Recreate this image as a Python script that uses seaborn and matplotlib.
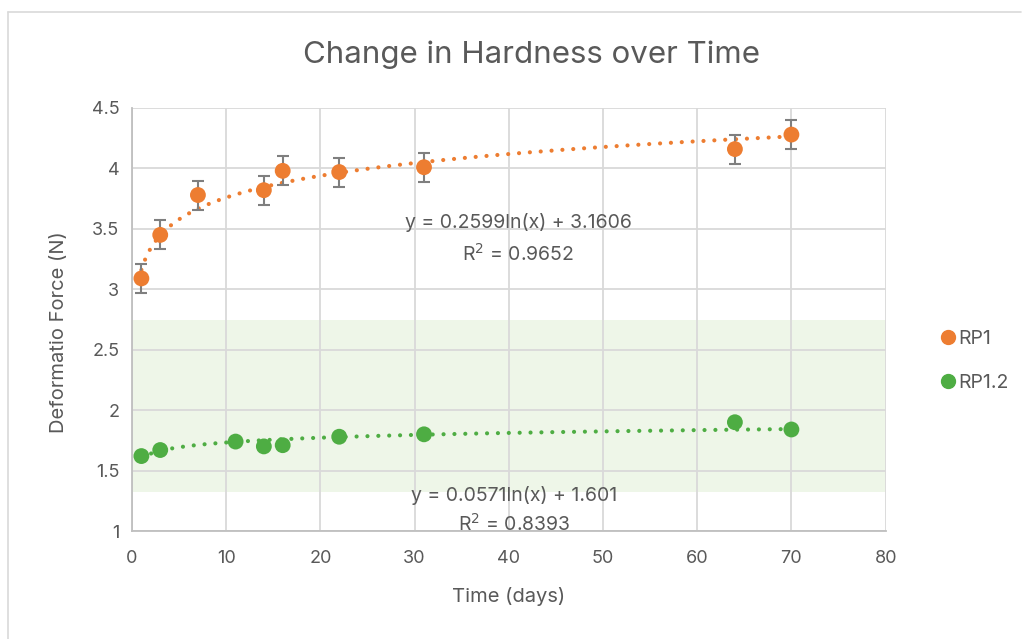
import numpy as np
import pandas as pd
import seaborn as sns
import matplotlib
matplotlib.use("Agg")
import matplotlib.pyplot as plt
from matplotlib.lines import Line2D

# ---- data ----
rp1_days = [1, 3, 7, 14, 16, 22, 31, 64, 70]
rp1_force = [3.09, 3.45, 3.78, 3.82, 3.98, 3.97, 4.01, 4.16, 4.28]
rp1_err = [0.12, 0.12, 0.12, 0.12, 0.12, 0.12, 0.12, 0.12, 0.12]

rp12_days = [1, 3, 11, 14, 16, 22, 31, 64, 70]
rp12_force = [1.62, 1.67, 1.74, 1.70, 1.71, 1.78, 1.80, 1.90, 1.84]

rp1_fit = (0.2599, 3.1606)    # slope, intercept of ln fit
rp12_fit = (0.0571, 1.601)
rp1_eq = ["y = 0.2599ln(x) + 3.1606", "R$^2$ = 0.9652"]
rp12_eq = ["y = 0.0571ln(x) + 1.601", "R$^2$ = 0.8393"]

band = (1.325, 2.75)
series_names = ["RP1", "RP1.2"]
colors = ["#ED7D31", "#4EAD43"]

xticks = [0, 10, 20, 30, 40, 50, 60, 70, 80]
yticks = [1, 1.5, 2, 2.5, 3, 3.5, 4, 4.5]
ytick_labels = ["1", "1.5", "2", "2.5", "3", "3.5", "4", "4.5"]

# ---- style ----
sns.set_theme(style="white")
plt.rcParams["font.family"] = ["Inter", "DejaVu Sans"]
txt = "#595959"

fig = plt.figure(figsize=(10.31, 6.39), dpi=100)
ax = fig.add_axes([0.128, 0.169, 0.731, 0.662])

df = pd.concat([
    pd.DataFrame({"Time": rp1_days, "Force": rp1_force, "Series": series_names[0]}),
    pd.DataFrame({"Time": rp12_days, "Force": rp12_force, "Series": series_names[1]}),
])

ax.axhspan(band[0], band[1], color="#EEF6E8", zorder=0, lw=0)

# trendlines
for days, (a, b), c in [(rp1_days, rp1_fit, colors[0]), (rp12_days, rp12_fit, colors[1])]:
    xs = np.linspace(min(days), max(days), 600)
    ax.plot(xs, a * np.log(xs) + b, color=c, lw=3.0, ls=(0, (0.01, 2.6)),
            dash_capstyle="round", zorder=2)

ax.errorbar(rp1_days, rp1_force, yerr=rp1_err, fmt="none", ecolor="#7F7F7F",
            elinewidth=1.5, capsize=4, capthick=1.5, zorder=3)

sns.scatterplot(data=df, x="Time", y="Force", hue="Series", palette=colors,
                s=130, edgecolor="none", ax=ax, zorder=4, legend=False)

ax.set_xlim(0, 80)
ax.set_ylim(1, 4.5)
ax.set_xticks(xticks)
ax.set_yticks(yticks)
ax.set_yticklabels(ytick_labels)
ax.grid(True, color="#D9D9D9", lw=1.3)
ax.set_axisbelow(True)
for s in ax.spines.values():
    s.set_visible(False)
for k in ("left", "bottom"):
    ax.spines[k].set_visible(True)
    ax.spines[k].set_color("#BFBFBF")
    ax.spines[k].set_linewidth(1.3)
ax.tick_params(axis="x", length=0, labelsize=13, colors=txt, pad=14)
ax.tick_params(axis="y", length=0, labelsize=13, colors=txt, pad=9)

ax.set_xlabel("Time (days)", fontsize=14.5, color=txt, labelpad=14)
ax.set_ylabel("Deformatio Force (N)", fontsize=14.5, color=txt)
ax.yaxis.set_label_coords(-0.085, 0.47)
fig.text(0.5155, 0.915, "Change in Hardness over Time", ha="center", va="center",
         fontsize=22.5, color=txt)

ax.text(41.0, 3.55, rp1_eq[0], ha="center", va="center", fontsize=14, color=txt)
ax.text(41.0, 3.29, rp1_eq[1], ha="center", va="center", fontsize=14, color=txt)
ax.text(40.6, 1.29, rp12_eq[0], ha="center", va="center", fontsize=14, color=txt)
ax.text(40.6, 1.06, rp12_eq[1], ha="center", va="center", fontsize=14, color=txt)

handles = [Line2D([], [], marker="o", ls="", color=c, markersize=10) for c in colors]
fig.legend(handles, series_names, loc="center left", bbox_to_anchor=(0.893, 0.435),
           frameon=False, fontsize=14, labelcolor=txt, handletextpad=0.05,
           labelspacing=1.35, handlelength=1.0)

# outer chart frame (top and left edges)
fig.add_artist(Line2D([0.008, 0.008], [0.0, 0.981], color="#D9D9D9", lw=1.2,
                      transform=fig.transFigure))
fig.add_artist(Line2D([0.008, 0.99], [0.981, 0.981], color="#D9D9D9", lw=1.2,
                      transform=fig.transFigure))

fig.savefig("out.png", dpi=100)
